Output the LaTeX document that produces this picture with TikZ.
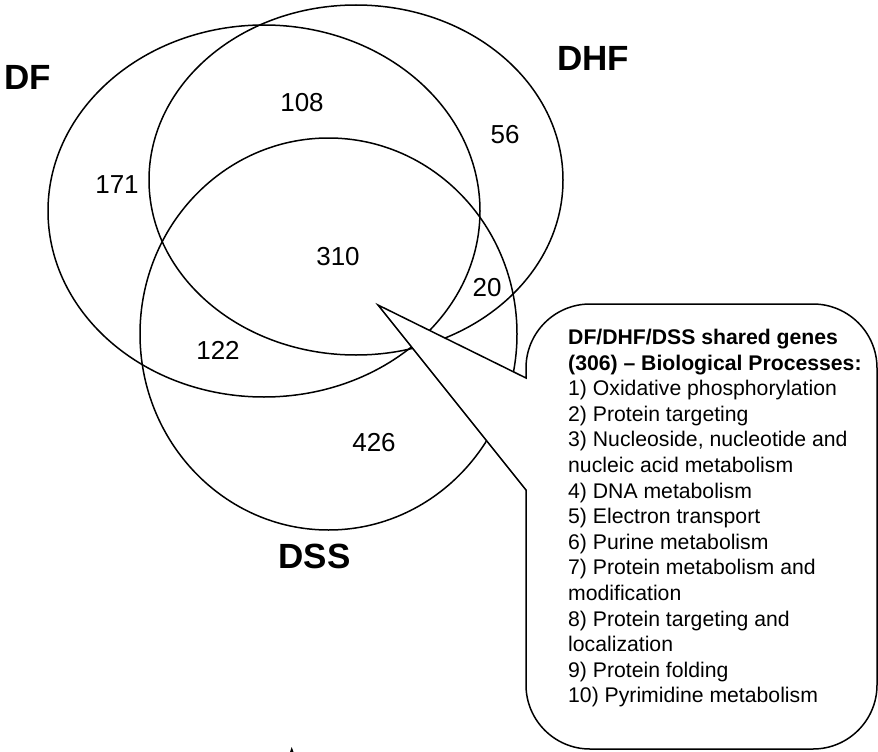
\documentclass[tikz,border=0pt]{standalone}
\usepackage{fontspec}
\setmainfont{Liberation Sans}
\begin{document}
\begin{tikzpicture}[x=1pt,y=-1pt,
  venn/.style={draw, line width=1.5pt},
  num/.style={font=\fontsize{26}{30}\selectfont, inner sep=0},
  setlabel/.style={font=\fontsize{35}{40}\selectfont\bfseries, inner sep=0},
  item/.style={font=\fontsize{21.2}{25.6}\selectfont, inner sep=0, anchor=base west},
  itembold/.style={item, font=\fontsize{21.2}{25.6}\selectfont\bfseries},
  callout/.style={draw, fill=white, line width=1.5pt, line join=miter}]
\useasboundingbox (0,0) rectangle (878,752);

% Venn ellipses
\draw[venn] (264,211) ellipse [x radius=216pt, y radius=186pt];
\draw[venn] (356,180) ellipse [x radius=207pt, y radius=175pt];
\draw[venn] (328.5,334) ellipse [x radius=188.5pt, y radius=196pt];

% set labels
\node[setlabel] (lDF) at (28,77) {DF};
\node[setlabel] (lDHF) at (593,58.5) {DHF};
\node[setlabel] (lDSS) at (314.5,556.5) {DSS};

% region counts
\node[num] (n108) at (302,103) {108};
\node[num] (n171) at (117,185) {171};
\node[num] (n310) at (338,257) {310};
\node[num] (n122) at (218,350) {122};
\node[num] (n56)  at (505,135) {56};
\node[num] (n20)  at (487,288) {20};
\node[num] (n426) at (374,443) {426};

% callout
\coordinate (tip) at (378,305);
\draw[callout] (tip) -- (526,490) -- (526,685)
  .. controls (526,720.3) and (554.7,749) .. (590,749) -- (813,749)
  .. controls (848.3,749) and (877,720.3) .. (877,685) -- (877,368)
  .. controls (877,332.7) and (848.3,304) .. (813,304) -- (590,304)
  .. controls (554.7,304) and (526,332.7) .. (526,368) -- (526,378) -- cycle;

\node[itembold] (t1) at (568,344.5) {DF/DHF/DSS shared genes};
\node[itembold] (t2) at (568,370.1) {(306) – Biological Processes:};
\node[item] (t3) at (568,395.7) {1) Oxidative phosphorylation};
\node[item] (t4) at (568,421.3) {2) Protein targeting};
\node[item] (t5) at (568,446.9) {3) Nucleoside, nucleotide and};
\node[item] (t6) at (568,472.5) {nucleic acid metabolism};
\node[item] (t7) at (568,498.1) {4) DNA metabolism};
\node[item] (t8) at (568,523.7) {5) Electron transport};
\node[item] (t9) at (568,549.3) {6) Purine metabolism};
\node[item] (t10) at (568,574.9) {7) Protein metabolism and};
\node[item] (t11) at (568,600.5) {modification};
\node[item] (t12) at (568,626.1) {8) Protein targeting and};
\node[item] (t13) at (568,651.7) {localization};
\node[item] (t14) at (568,677.3) {9) Protein folding};
\node[item] (t15) at (568,702.9) {10) Pyrimidine metabolism};

% small mark at the bottom edge
\fill (290,752) -- (293.5,752) -- (291.7,747) -- cycle;
\end{tikzpicture}
\end{document}
